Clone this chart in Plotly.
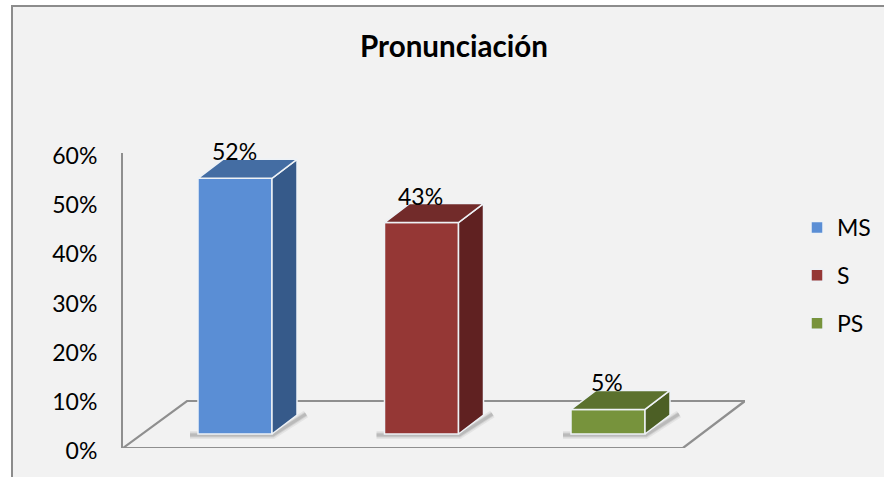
import plotly.graph_objects as go

categories = ["MS", "S", "PS"]
values = [52, 43, 5]
labels = ["52%", "43%", "5%"]
front_colors = ["#5a8ed5", "#953735", "#77933c"]
top_colors = ["#446da3", "#722b2a", "#5b712e"]
side_colors = ["#365a8a", "#602121", "#4c5f25"]
y_ticks = [0, 10, 20, 30, 40, 50, 60]
y_tick_labels = ["0%", "10%", "20%", "30%", "40%", "50%", "60%"]

W, H = 884, 477
L, R, T, B = 123, 745, 153, 448
PX_X = 186.5
PX_Y = (B - T) / 60
x_range = [(L - 235) / PX_X, (R - 235) / PX_X]
BAR_W = 74 / PX_X
DX = 25 / PX_X
DY = 19 / PX_Y
BASE = 14 / PX_Y
FONT = "Lato, Carlito, Calibri, sans-serif"
GRID = "#8f8f8f"
EDGE = "#eef2f6"


def path(points, close=False):
    s = "M" + " L".join(f"{x:.4f},{y:.4f}" for x, y in points)
    return s + (" Z" if close else "")


def paper_x(px):
    return (px - L) / (R - L)


def paper_y(px):
    return (B - px) / (B - T)


fig = go.Figure()

for i, (cat, v) in enumerate(zip(categories, values)):
    fig.add_trace(go.Bar(
        x=[i], y=[v], base=[BASE], width=[BAR_W], name=cat, legendgroup=cat,
        marker=dict(color=front_colors[i], line=dict(color=EDGE, width=1.5)),
        hoverinfo="skip",
    ))

for i, v in enumerate(values):
    x0, x1 = i - BAR_W / 2, i + BAR_W / 2
    top = BASE + v
    fig.add_trace(go.Scatter(
        x=[x1, x1 + DX, x1 + DX, x1, x1], y=[BASE, BASE + DY, top + DY, top, BASE],
        mode="lines", fill="toself", fillcolor=side_colors[i],
        line=dict(color=EDGE, width=1.5), showlegend=False, hoverinfo="skip",
    ))
    fig.add_trace(go.Scatter(
        x=[x0, x1, x1 + DX, x0 + DX, x0], y=[top, top, top + DY, top + DY, top],
        mode="lines", fill="toself", fillcolor=top_colors[i],
        line=dict(color=EDGE, width=1.5), showlegend=False, hoverinfo="skip",
    ))

annotations = [
    dict(x=i - 1 / PX_X, y=BASE + v, xref="x", yref="y", yshift=27, text=lab,
         showarrow=False, xanchor="center", yanchor="middle",
         font=dict(family=FONT, size=23, color="#000000"))
    for i, (v, lab) in enumerate(zip(values, labels))
]

shapes = [dict(
    type="rect", xref="paper", yref="paper",
    x0=paper_x(12), x1=paper_x(W + 10), y0=paper_y(H + 10), y1=paper_y(6),
    fillcolor="#f2f2f2", line=dict(color="#8c8c8c", width=2), layer="below",
)]

floor_front_right = (683 - 235) / PX_X
floor_back_left = (187 - 235) / PX_X
floor_back_y = (B - 401) / PX_Y
shapes.append(dict(
    type="path", xref="x", yref="y", layer="below",
    path=path([(x_range[0], 0), (floor_front_right, 0), (x_range[1], floor_back_y),
               (floor_back_left, floor_back_y)], close=True),
    line=dict(color=GRID, width=2.2),
))

for i in range(len(values)):
    x0, x1 = i - BAR_W / 2, i + BAR_W / 2
    pts = [(x0 - 8 / PX_X, BASE - 1 / PX_Y), (x1 + 1 / PX_X, BASE - 1 / PX_Y),
           (x1 + DX + 9 / PX_X, BASE + DY + 1 / PX_Y)]
    for width, alpha in [(8, 0.07), (5, 0.10), (3, 0.14)]:
        shapes.append(dict(
            type="path", xref="x", yref="y", layer="below", path=path(pts),
            line=dict(color=f"rgba(50,50,50,{alpha})", width=width),
        ))

fig.update_layout(
    width=W, height=H, autosize=False,
    margin=dict(l=L, r=W - R, t=T, b=H - B, pad=0, autoexpand=False),
    paper_bgcolor="white", plot_bgcolor="rgba(0,0,0,0)",
    barmode="overlay", shapes=shapes, annotations=annotations,
    title=dict(text="<b>Pronunciación</b>", x=454 / W, xanchor="center",
               y=1 - 47 / H, yanchor="middle",
               font=dict(family=FONT, size=29.6, color="#000000")),
    xaxis=dict(range=x_range, showticklabels=False, showgrid=False, zeroline=False,
               showline=False, ticks=""),
    yaxis=dict(range=[0, 60], tickvals=y_ticks, ticktext=y_tick_labels, showgrid=False,
               zeroline=False, showline=True, linecolor=GRID, linewidth=2, ticks="",
               ticklabelstandoff=19, ticklabelshift=3,
               tickfont=dict(family=FONT, size=23, color="#000000")),
    legend=dict(x=paper_x(797), xanchor="left", y=paper_y(206), yanchor="top",
                bgcolor="rgba(0,0,0,0)", tracegroupgap=15,
                font=dict(family=FONT, size=23, color="#000000"),
                itemclick=False, itemdoubleclick=False),
)

fig.write_html(
    "out.html", config=dict(displayModeBar=False),
    post_script="document.body.style.margin='0';document.body.style.overflow='hidden';",
)
